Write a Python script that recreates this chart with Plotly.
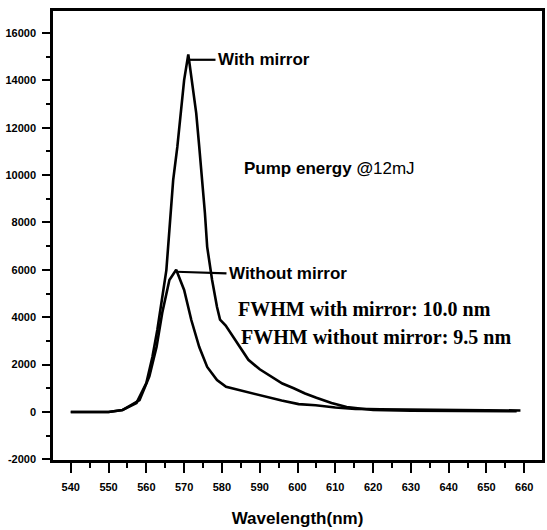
import plotly.graph_objects as go

# ---- data ----
wl_with = [540, 545, 550, 553.7, 557.4, 560.0, 561.6, 562.9, 564.2, 565.3, 566.1, 567.1,
           568.2, 569.2, 570.0, 571.1, 572.1, 573.2, 574.0, 574.8, 575.5, 576.1, 577.4,
           578.7, 579.5, 581.0, 583.0, 585.0, 587.0, 590.0, 593.0, 596.0, 599.0, 602.0,
           605.0, 609.0, 613.0, 617.0, 620.0, 630.0, 640.0, 650.0, 658.0]
int_with = [0, 0, 0, 80, 380, 1220, 2320, 3460, 4850, 5990, 7680, 9790,
            11190, 12620, 14010, 15100, 14010, 12620, 11190, 9790, 8400, 6970, 5570,
            4430, 3900, 3650, 3150, 2650, 2200, 1800, 1500, 1200, 1000, 780,
            600, 380, 210, 120, 80, 50, 40, 30, 30]

wl_without = [540, 545, 550, 553.7, 558.2, 560.8, 562.7, 564.2, 566.1, 567.9, 570.0, 571.9,
              574.0, 576.1, 578.7, 581.1, 584.5, 587.1, 591.0, 595.8, 600.3, 604.8, 610.0,
              615.3, 622.0, 630.0, 640.0, 650.0, 659.0]
int_without = [0, 0, 0, 80, 500, 1500, 2740, 4180, 5570, 6000, 5150, 3880,
               2740, 1900, 1350, 1060, 930, 800, 650, 480, 330, 280, 190,
               130, 110, 90, 80, 70, 60]

x_ticks = list(range(540, 661, 10))
y_ticks = list(range(-2000, 16001, 2000))

label_with = "With mirror"
label_without = "Without mirror"
pump_text = "<b>Pump energy @</b>12mJ"
fwhm_with = "FWHM with mirror: 10.0 nm"
fwhm_without = "FWHM without mirror: 9.5 nm"

fig = go.Figure()
for xs, ys, name in [(wl_with, int_with, label_with), (wl_without, int_without, label_without)]:
    fig.add_trace(go.Scatter(x=xs, y=ys, mode="lines", name=name,
                             line=dict(color="black", width=2.6)))

# peaks for leader lines
pw = int_with.index(max(int_with))
pwo = int_without.index(max(int_without))

sans = dict(family="Arial", size=17, color="black")
fig.add_shape(type="line", x0=wl_with[pw], y0=int_with[pw] - 230, x1=578.3, y1=int_with[pw] - 230,
              line=dict(color="black", width=2.2))
fig.add_shape(type="line", x0=wl_without[pwo], y0=int_without[pwo] - 80, x1=581.2, y1=int_without[pwo] - 150,
              line=dict(color="black", width=2.2))

fig.add_annotation(x=578.5, y=int_with[pw] - 230, text="<b>" + label_with + "</b>", showarrow=False,
                   xanchor="left", yanchor="middle", font=sans)
fig.add_annotation(x=581.4, y=int_without[pwo] - 150, text="<b>" + label_without + "</b>", showarrow=False,
                   xanchor="left", yanchor="middle", font=sans)
fig.add_annotation(x=585.3, y=10300, text=pump_text, showarrow=False,
                   xanchor="left", yanchor="middle", font=sans)
serif = dict(family="Liberation Serif", size=20, color="black")
fig.add_annotation(x=583.7, y=4350, text="<b>" + fwhm_with + "</b>", showarrow=False,
                   xanchor="left", yanchor="middle", font=serif)
fig.add_annotation(x=584.5, y=3170, text="<b>" + fwhm_without + "</b>", showarrow=False,
                   xanchor="left", yanchor="middle", font=serif)

tickfont = dict(family="Arial", size=11, color="black", weight="bold")
fig.update_layout(
    width=547, height=530,
    margin=dict(l=53, r=2, t=11, b=70),
    paper_bgcolor="white", plot_bgcolor="white",
    showlegend=False,
    xaxis=dict(range=[535.3, 664.7], tickvals=x_ticks, ticktext=[str(v) for v in x_ticks],
               ticks="outside", ticklen=10, tickwidth=2, tickcolor="black", ticklabelstandoff=5,
               minor=dict(dtick=5, tick0=535, ticks="outside", ticklen=5, tickwidth=2, tickcolor="black"),
               showline=True, linewidth=2.5, linecolor="black", mirror=True,
               showgrid=False, zeroline=False, tickfont=tickfont,
               title=dict(text="<b>Wavelength(nm)</b>", font=dict(family="Arial", size=17, color="black"),
                          standoff=21)),
    yaxis=dict(range=[-2030, 16930], tickvals=y_ticks, ticktext=[str(v) for v in y_ticks],
               ticks="outside", ticklen=8, tickwidth=2, tickcolor="black", ticklabelstandoff=4,
               minor=dict(dtick=1000, tick0=-2000, ticks="outside", ticklen=4, tickwidth=2, tickcolor="black"),
               showline=True, linewidth=2.5, linecolor="black", mirror=True,
               showgrid=False, zeroline=False, tickfont=tickfont),
)

fig.write_html("out.html", config={"responsive": False, "displayModeBar": False},
               post_script="document.body.style.margin='0';document.body.style.overflow='hidden';")
